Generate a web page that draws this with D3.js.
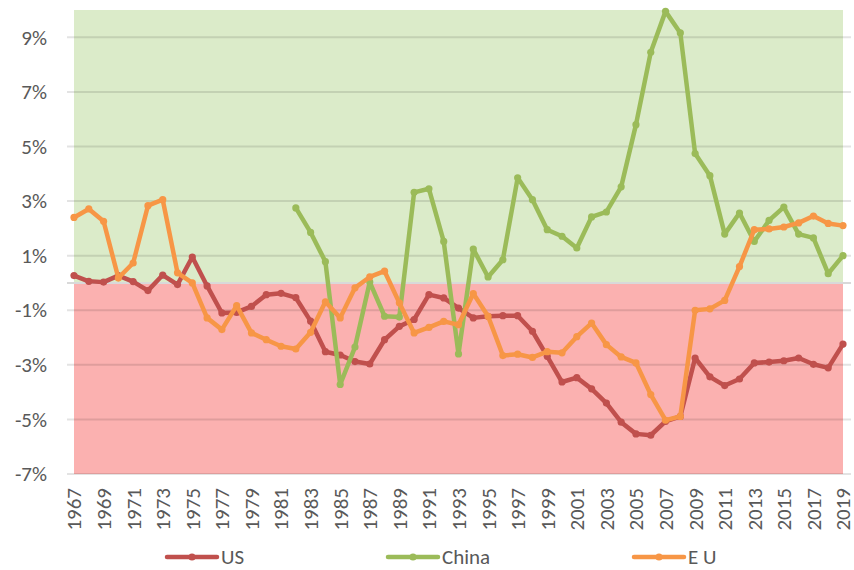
<!DOCTYPE html>
<html>
<head>
<meta charset="utf-8">
<script src="https://cdn.jsdelivr.net/npm/d3@7"></script>
<style>
    body { margin: 0; background: #fff; }
    .axis text { font-family: Calibri, Carlito, "Liberation Sans", Arial, sans-serif; font-size: 21px; fill: #595959; }
    .legend text { font-family: Calibri, Carlito, "Liberation Sans", Arial, sans-serif; font-size: 21px; fill: #595959; }
</style>
</head>
<body>
<div id="chart-area"></div>
<script>

// Data (percent)
let years = [1967, 1968, 1969, 1970, 1971, 1972, 1973, 1974, 1975, 1976,
    1977, 1978, 1979, 1980, 1981, 1982, 1983, 1984, 1985, 1986,
    1987, 1988, 1989, 1990, 1991, 1992, 1993, 1994, 1995, 1996,
    1997, 1998, 1999, 2000, 2001, 2002, 2003, 2004, 2005, 2006,
    2007, 2008, 2009, 2010, 2011, 2012, 2013, 2014, 2015, 2016,
    2017, 2018, 2019];

let usValues = [0.27, 0.06, 0.03, 0.27, 0.05, -0.28, 0.29, -0.06, 0.95, -0.11,
    -1.1, -1.08, -0.86, -0.43, -0.38, -0.54, -1.4, -2.52, -2.64, -2.88,
    -2.97, -2.08, -1.59, -1.34, -0.43, -0.55, -0.92, -1.28, -1.22, -1.2,
    -1.2, -1.77, -2.69, -3.63, -3.47, -3.88, -4.4, -5.1, -5.53, -5.58,
    -5.07, -4.89, -2.75, -3.44, -3.76, -3.52, -2.93, -2.9, -2.85, -2.75,
    -2.98, -3.11, -2.24];

// China starts in 1982
let chinaYears = [1982, 1983, 1984, 1985, 1986, 1987, 1988, 1989, 1990, 1991,
    1992, 1993, 1994, 1995, 1996, 1997, 1998, 1999, 2000, 2001,
    2002, 2003, 2004, 2005, 2006, 2007, 2008, 2009, 2010, 2011,
    2012, 2013, 2014, 2015, 2016, 2017, 2018, 2019];

let chinaValues = [2.75, 1.85, 0.78, -3.72, -2.35, 0.03, -1.22, -1.25, 3.32, 3.45,
    1.52, -2.6, 1.24, 0.22, 0.85, 3.85, 3.05, 1.95, 1.71, 1.28,
    2.42, 2.6, 3.52, 5.8, 8.45, 9.95, 9.16, 4.74, 3.93, 1.79,
    2.56, 1.52, 2.29, 2.78, 1.79, 1.65, 0.34, 1.0];

let euValues = [2.4, 2.71, 2.26, 0.18, 0.73, 2.83, 3.05, 0.37, 0.0, -1.28,
    -1.71, -0.83, -1.83, -2.08, -2.32, -2.42, -1.81, -0.69, -1.28, -0.18,
    0.22, 0.43, -0.73, -1.83, -1.63, -1.41, -1.53, -0.39, -1.22, -2.66,
    -2.61, -2.73, -2.52, -2.56, -1.97, -1.47, -2.26, -2.71, -2.93, -4.09,
    -5.03, -4.89, -1.0, -0.95, -0.64, 0.6, 1.95, 1.98, 2.05, 2.2,
    2.45, 2.18, 2.1];

let yTicks = [-7, -5, -3, -1, 1, 3, 5, 7, 9];
let xTicks = [1967, 1969, 1971, 1973, 1975, 1977, 1979, 1981, 1983, 1985,
    1987, 1989, 1991, 1993, 1995, 1997, 1999, 2001, 2003, 2005,
    2007, 2009, 2011, 2013, 2015, 2017, 2019];

let seriesNames = ["US", "China", "E U"];
let seriesColors = ["#c0504d", "#9bbb59", "#f79646"];


// SVG drawing area
let margin = {top: 10, right: 11, bottom: 96, left: 74};

let width = 854 - margin.left - margin.right,
    height = 570 - margin.top - margin.bottom;

let svg = d3.select("#chart-area").append("svg")
    .attr("width", width + margin.left + margin.right)
    .attr("height", height + margin.top + margin.bottom)
    .append("g")
    .attr("transform", "translate(" + margin.left + "," + margin.top + ")");

// Scales
let x = d3.scaleLinear()
    .domain([1967, 2019])
    .range([0, width]);

let y = d3.scaleLinear()
    .domain([-7, 10])
    .range([height, 0]);

// Background bands: green above zero, red below
svg.append("rect")
    .attr("x", 0)
    .attr("y", y(10))
    .attr("width", width)
    .attr("height", y(0) - y(10))
    .attr("fill", "#dbebc9");

svg.append("rect")
    .attr("x", 0)
    .attr("y", y(0))
    .attr("width", width)
    .attr("height", y(-7) - y(0))
    .attr("fill", "#fbb1b0");

// Gridlines
svg.append("g")
    .selectAll("line")
    .data(yTicks)
    .enter().append("line")
    .attr("x1", -7)
    .attr("x2", width + 8)
    .attr("y1", d => y(d))
    .attr("y2", d => y(d))
    .attr("stroke", "#000")
    .attr("stroke-opacity", 0.11)
    .attr("stroke-width", 2);

// Zero line (horizontal axis crossing)
svg.append("line")
    .attr("x1", -7)
    .attr("x2", width + 8)
    .attr("y1", y(0))
    .attr("y2", y(0))
    .attr("stroke", "#d9d9d9")
    .attr("stroke-width", 2);

// Axes
let yAxis = d3.axisLeft(y)
    .tickValues(yTicks)
    .tickSize(0)
    .tickPadding(27)
    .tickFormat(d => d + "%");

svg.append("g")
    .attr("class", "y-axis axis")
    .call(yAxis)
    .call(g => g.select(".domain").remove());

let xAxis = d3.axisBottom(x)
    .tickValues(xTicks)
    .tickSize(0)
    .tickFormat(d => d);

svg.append("g")
    .attr("class", "x-axis axis")
    .attr("transform", "translate(0," + height + ")")
    .call(xAxis)
    .call(g => g.select(".domain").remove())
    .selectAll("text")
    .attr("transform", "rotate(-90)")
    .attr("text-anchor", "end")
    .attr("x", -14)
    .attr("y", 0)
    .attr("dy", "0.33em");

// Lines
let line = d3.line()
    .x(d => x(d.year))
    .y(d => y(d.value))
    .curve(d3.curveLinear);

let series = [
    years.map((yr, i) => ({year: yr, value: usValues[i]})),
    chinaYears.map((yr, i) => ({year: yr, value: chinaValues[i]})),
    years.map((yr, i) => ({year: yr, value: euValues[i]}))
];

series.forEach(function (data, i) {
    svg.append("path")
        .attr("class", "line")
        .attr("d", line(data))
        .attr("fill", "none")
        .attr("stroke", seriesColors[i])
        .attr("stroke-width", 4.5)
        .attr("stroke-linejoin", "round")
        .attr("stroke-linecap", "round");

    svg.append("g")
        .selectAll("circle")
        .data(data)
        .enter().append("circle")
        .attr("cx", d => x(d.year))
        .attr("cy", d => y(d.value))
        .attr("r", 3.6)
        .attr("fill", seriesColors[i]);
});

// Legend
let legendX = [167, 388, 634];

let legend = d3.select("svg").append("g")
    .attr("class", "legend")
    .selectAll("g")
    .data(seriesNames)
    .enter().append("g")
    .attr("transform", (d, i) => "translate(" + legendX[i] + ",557)");

legend.append("line")
    .attr("x1", 0)
    .attr("x2", 50)
    .attr("stroke", (d, i) => seriesColors[i])
    .attr("stroke-width", 4.5)
    .attr("stroke-linecap", "round");

legend.append("circle")
    .attr("cx", 25)
    .attr("r", 3.6)
    .attr("fill", (d, i) => seriesColors[i]);

legend.append("text")
    .attr("x", 54)
    .attr("y", 7)
    .text(d => d);

</script>
</body>
</html>
